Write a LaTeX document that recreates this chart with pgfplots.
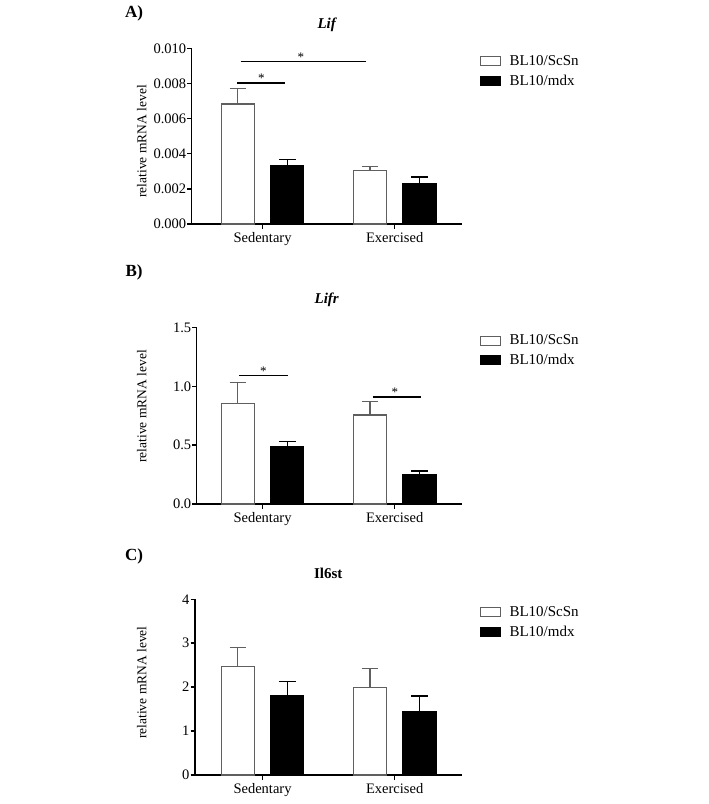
\documentclass[border=0pt]{standalone}
\usepackage{fontspec}
\setmainfont{Liberation Serif}
\usepackage{pgfplots}
\usepackage{pgfplotstable}
\pgfplotsset{compat=1.18}
\definecolor{edgegray}{RGB}{95,95,95}

\pgfplotstableread{
x y e
-0.187 0.00683 0.00089
0.813 0.00305 0.00021
}\Awhite
\pgfplotstableread{
x y e
0.187 0.00330 0.00038
1.187 0.00229 0.00038
}\Ablack
\pgfplotstableread{
x y e
-0.187 0.857 0.178
0.813 0.757 0.113
}\Bwhite
\pgfplotstableread{
x y e
0.187 0.488 0.042
1.187 0.253 0.027
}\Bblack
\pgfplotstableread{
x y e
-0.187 2.47 0.43
0.813 2.00 0.43
}\Cwhite
\pgfplotstableread{
x y e
0.187 1.81 0.32
1.187 1.435 0.365
}\Cblack

\pgfplotsset{
  panel/.style={
    scale only axis, anchor=south west, clip=false,
    xmax=1.507, ymin=0,
    axis x line*=bottom, axis y line*=left,
    axis line style={-, line width=1.5pt, black},
    xtick={0,1}, xticklabels={Sedentary,Exercised},
    tick align=outside, major tick length=4.5pt,
    tick style={line width=1.5pt, black},
    minor tick num=0,
    ticklabel style={font=\fontsize{14.5}{16}\selectfont},
    yticklabel style={xshift=2.5pt},
    /pgf/number format/assume math mode=true,
    ylabel={relative mRNA level},
    ylabel style={font=\fontsize{13.5}{15}\selectfont, anchor=center},
    legend style={at={(1,1)}, anchor=north west, xshift=18pt, yshift=-6pt,
      draw=none, fill=none, inner sep=0pt, row sep=6pt,
      nodes={inner sep=1pt},
      font=\fontsize{15}{17}\selectfont},
    legend cell align=left,
  },
  whitebar/.style={ybar, bar width=0.25, bar shift=0pt, fill=white, draw=edgegray, line width=1.3pt,
    legend image code/.code={\draw[fill=white, draw=edgegray, line width=1.2pt] (0pt,-4.5pt) rectangle (20pt,4.5pt); \path[draw=none, fill=none] (0pt,0pt) -- (28pt,0pt);},
    error bars/.cd, y dir=plus, y explicit,
    error bar style={line width=1.3pt, draw=edgegray},
    error mark options={rotate=90, mark size=8.3pt, line width=1.3pt, edgegray}},
  blackbar/.style={ybar, bar width=0.25, bar shift=0pt, fill=black, draw=black, line width=1.3pt,
    legend image code/.code={\draw[fill=black, draw=black, line width=1.2pt] (0pt,-4.5pt) rectangle (20pt,4.5pt); \path[draw=none, fill=none] (0pt,0pt) -- (28pt,0pt);},
    error bars/.cd, y dir=plus, y explicit,
    error bar style={line width=1.3pt, draw=black},
    error mark options={rotate=90, mark size=8.3pt, line width=1.3pt, black}},
  sig/.style={black, line width=1.6pt, mark=none, forget plot},
}

\begin{document}
\begin{tikzpicture}
\useasboundingbox (0,0) rectangle (709pt,-804pt);

\node[font=\bfseries\fontsize{17}{19}\selectfont] at (134pt,-13.3pt) {A)};
\node[font=\bfseries\fontsize{17}{19}\selectfont] at (134pt,-272.7pt) {B)};
\node[font=\bfseries\fontsize{17}{19}\selectfont] at (134pt,-556.7pt) {C)};

\node[font=\bfseries\itshape\fontsize{15}{17}\selectfont] at (326.7pt,-25pt) {Lif};
\node[font=\bfseries\itshape\fontsize{15}{17}\selectfont] at (326.7pt,-300pt) {Lifr};
\node[font=\bfseries\fontsize{15}{17}\selectfont] at (328.3pt,-573.3pt) {Il6st};

% Panel A
\begin{axis}[panel,
  at={(191.7pt,-224pt)}, width=270pt, height=175.7pt,
  xmin=-0.536, ymax=0.010,
  ytick={0,0.002,0.004,0.006,0.008,0.010},
  scaled y ticks=false,
  yticklabel style={/pgf/number format/.cd, fixed, fixed zerofill, precision=3},
  ylabel style={at={(axis description cs:-0.185,0.47)}},
]
\addplot[whitebar] table[x=x, y=y, y error=e] {\Awhite};
\addlegendentry{BL10/ScSn}
\addplot[blackbar] table[x=x, y=y, y error=e] {\Ablack};
\addlegendentry{BL10/mdx}
\addplot[sig] coordinates {(-0.191,0.00801) (0.170,0.00801)};
\addplot[sig] coordinates {(-0.165,0.00924) (0.780,0.00924)};
\node[anchor=base, font=\fontsize{13}{15}\selectfont, yshift=0.5pt] at (axis cs:-0.009,0.00801) {*};
\node[anchor=base, font=\fontsize{13}{15}\selectfont, yshift=0.5pt] at (axis cs:0.291,0.00924) {*};
\end{axis}

% Panel B
\begin{axis}[panel,
  at={(196.7pt,-504pt)}, width=265pt, height=176.3pt,
  xmin=-0.498, ymax=1.5,
  ytick={0,0.5,1.0,1.5},
  yticklabel style={/pgf/number format/.cd, fixed, fixed zerofill, precision=1},
  ylabel style={at={(axis description cs:-0.2075,0.554)}},
]
\addplot[whitebar] table[x=x, y=y, y error=e] {\Bwhite};
\addlegendentry{BL10/ScSn}
\addplot[blackbar] table[x=x, y=y, y error=e] {\Bblack};
\addlegendentry{BL10/mdx}
\addplot[sig] coordinates {(-0.175,1.092) (0.196,1.092)};
\addplot[sig] coordinates {(0.834,0.913) (1.197,0.913)};
\node[anchor=base, font=\fontsize{13}{15}\selectfont, yshift=0.5pt] at (axis cs:0.006,1.092) {*};
\node[anchor=base, font=\fontsize{13}{15}\selectfont, yshift=0.5pt] at (axis cs:1.002,0.913) {*};
\end{axis}

% Panel C
\begin{axis}[panel,
  at={(195pt,-775pt)}, width=266.7pt, height=175.7pt,
  xmin=-0.511, ymax=4,
  ytick={0,1,2,3,4},
  ylabel style={at={(axis description cs:-0.2,0.526)}},
]
\addplot[whitebar] table[x=x, y=y, y error=e] {\Cwhite};
\addlegendentry{BL10/ScSn}
\addplot[blackbar] table[x=x, y=y, y error=e] {\Cblack};
\addlegendentry{BL10/mdx}
\end{axis}
\end{tikzpicture}
\end{document}
